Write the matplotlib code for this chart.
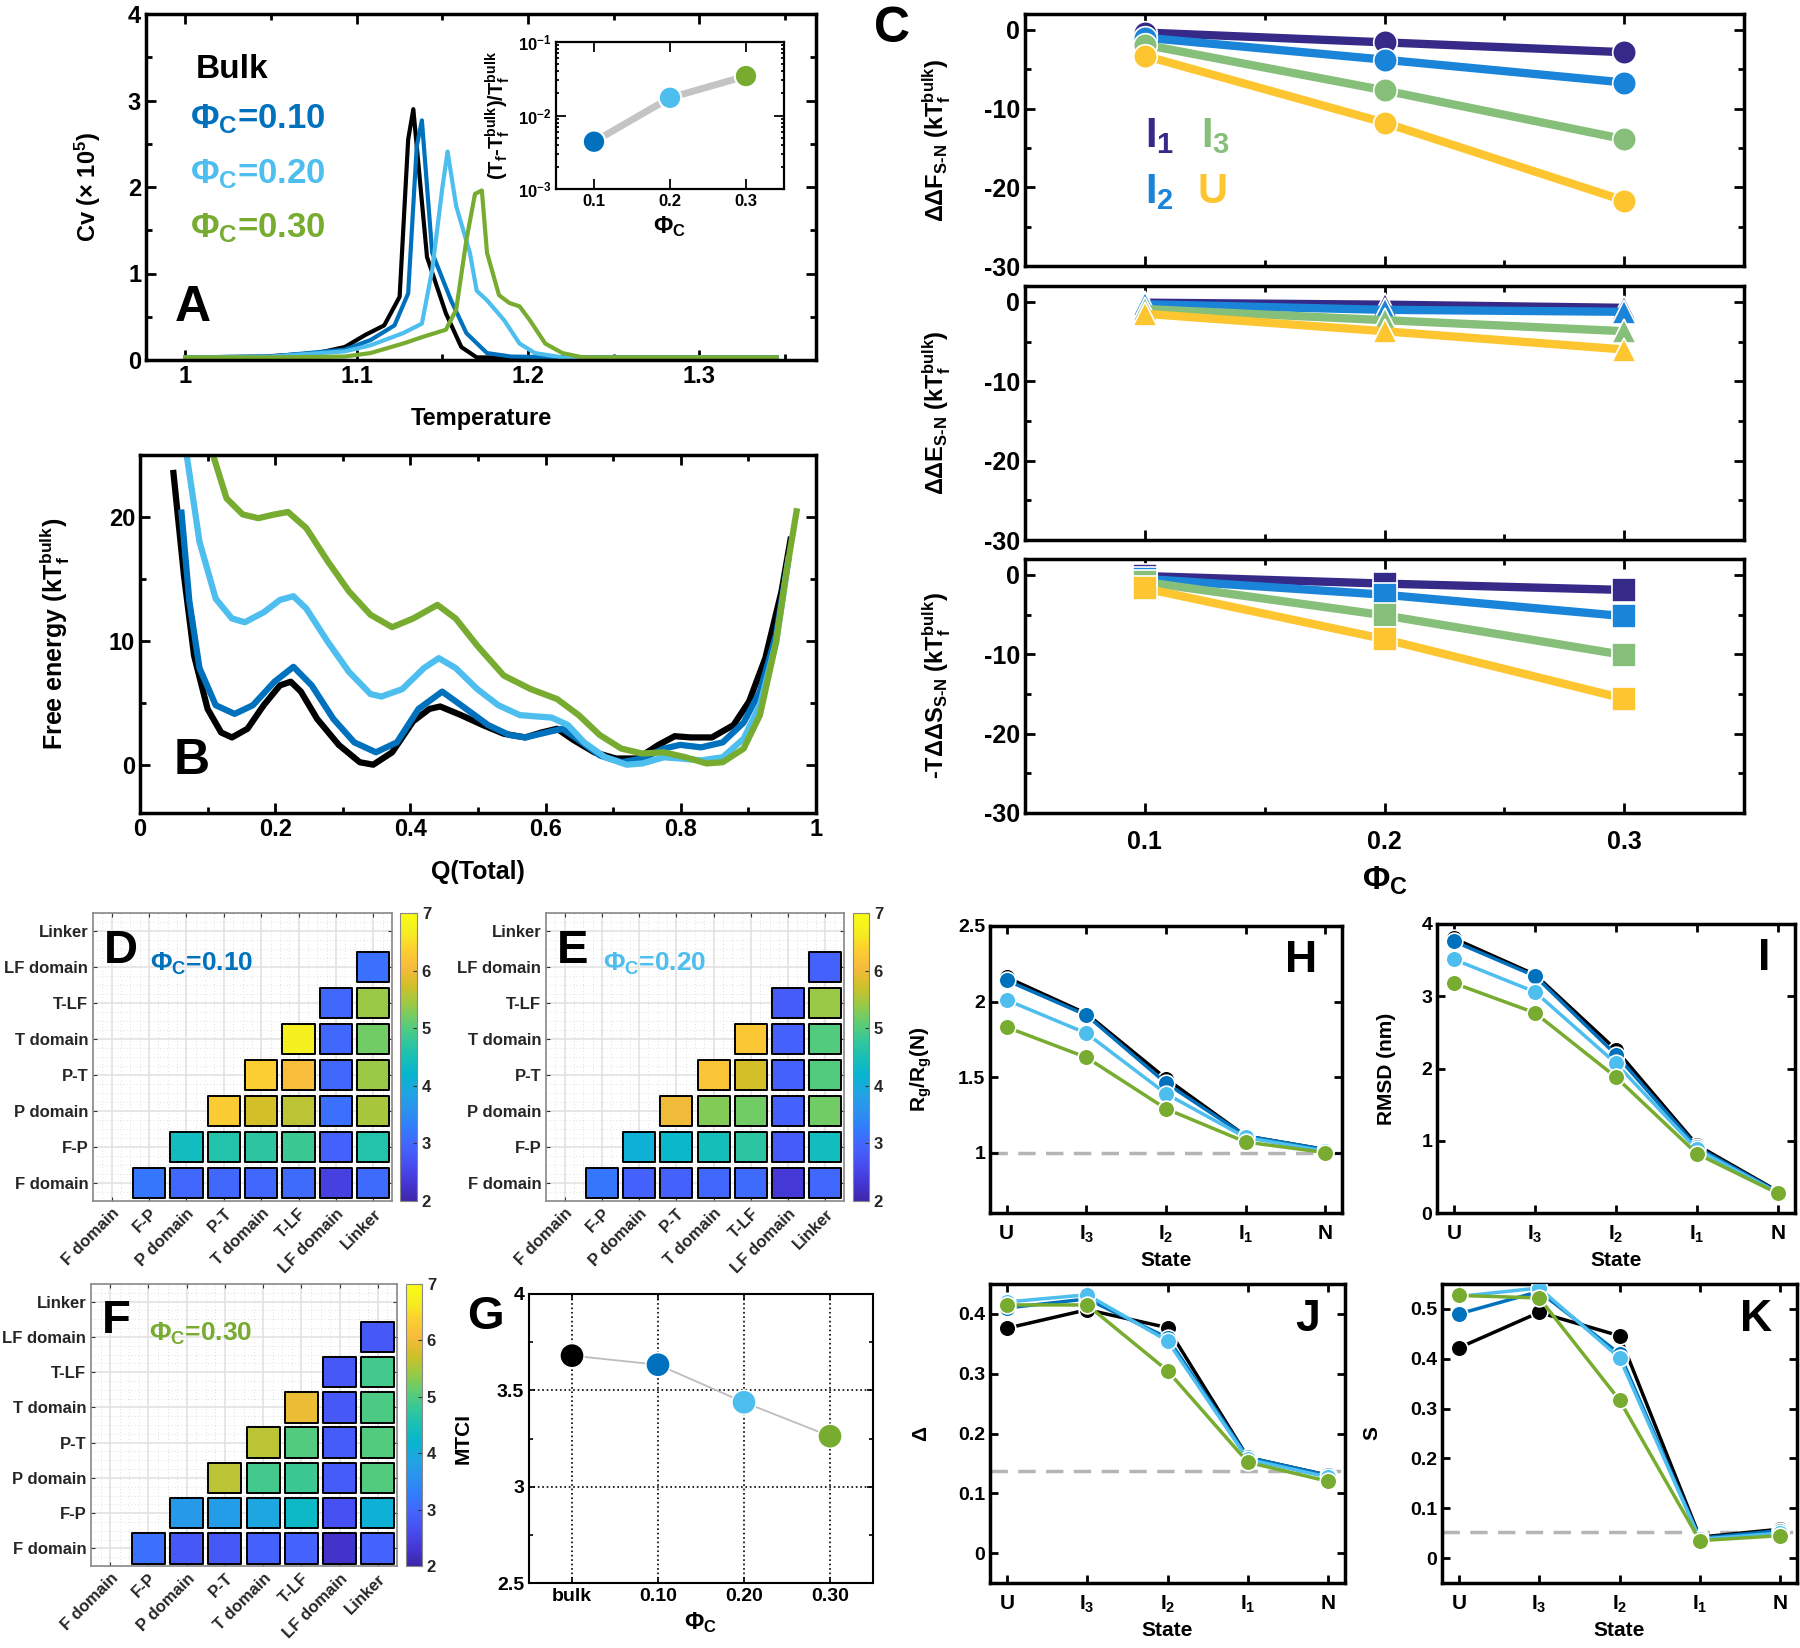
import numpy as np
import matplotlib
matplotlib.use("Agg")
import matplotlib.pyplot as plt
from matplotlib.colors import LinearSegmentedColormap, Normalize
from matplotlib.patches import Rectangle
from matplotlib.collections import PatchCollection
from matplotlib.ticker import MultipleLocator

WIDE = ['Liberation Sans', 'DejaVu Sans']
plt.rcParams['font.family'] = WIDE
plt.rcParams['font.weight'] = 'bold'
plt.rcParams['axes.labelweight'] = 'bold'
plt.rcParams['mathtext.default'] = 'regular'
plt.rcParams['axes.unicode_minus'] = False

C_BULK, C_10, C_20, C_30 = 'black', '#0072bd', '#4dbeee', '#77ac30'
C_I1, C_I2, C_I3, C_U = '#352a87', '#1a84d9', '#86bf7a', '#fdc631'

# ---------------- A: heat capacity (x 1e5)
t_bulk = [1.0, 1.046, 1.077, 1.093, 1.105, 1.116, 1.125, 1.130, 1.133, 1.141, 1.152, 1.161, 1.170, 1.20, 1.345]
cv_bulk = [0.03, 0.04, 0.08, 0.15, 0.29, 0.40, 0.73, 2.55, 2.90, 1.19, 0.54, 0.15, 0.03, 0.03, 0.03]
t_10 = [1.0, 1.05, 1.093, 1.108, 1.122, 1.130, 1.135, 1.138, 1.144, 1.155, 1.164, 1.176, 1.19, 1.22, 1.345]
cv_10 = [0.03, 0.04, 0.12, 0.23, 0.40, 0.77, 2.47, 2.77, 1.24, 0.69, 0.31, 0.08, 0.04, 0.03, 0.03]
t_20 = [1.0, 1.05, 1.093, 1.108, 1.127, 1.138, 1.144, 1.150, 1.153, 1.158, 1.166, 1.170, 1.176,
        1.186, 1.195, 1.204, 1.22, 1.345]
cv_20 = [0.03, 0.04, 0.10, 0.17, 0.31, 0.42, 1.04, 2.0, 2.41, 1.78, 1.24, 0.80, 0.69, 0.46, 0.19, 0.08, 0.03, 0.03]
t_30 = [1.0, 1.05, 1.093, 1.108, 1.127, 1.139, 1.152, 1.158, 1.164, 1.169, 1.173, 1.176, 1.183, 1.189,
        1.195, 1.201, 1.21, 1.22, 1.232, 1.26, 1.345]
cv_30 = [0.03, 0.03, 0.04, 0.08, 0.19, 0.27, 0.35, 0.58, 1.39, 1.92, 1.96, 1.24, 0.75, 0.66, 0.62, 0.46,
         0.19, 0.08, 0.03, 0.03, 0.03]

# inset
phi_c = [0.1, 0.2, 0.3]
tf_shift = [0.0044, 0.0174, 0.0344]

# ---------------- B: free energy profiles
q_bulk = [0.049, 0.065, 0.08, 0.10, 0.12, 0.136, 0.159, 0.183, 0.207, 0.223, 0.238, 0.262, 0.294, 0.325,
          0.345, 0.373, 0.404, 0.428, 0.444, 0.475, 0.507, 0.538, 0.57, 0.594, 0.617, 0.641, 0.672, 0.704,
          0.736, 0.767, 0.791, 0.815, 0.846, 0.878, 0.901, 0.925, 0.949, 0.963]
f_bulk = [23.8, 15.3, 8.8, 4.5, 2.6, 2.2, 2.9, 4.8, 6.4, 6.7, 5.9, 3.7, 1.6, 0.2, 0.0, 1.0, 3.5, 4.5, 4.7,
          4.0, 3.2, 2.5, 2.2, 2.6, 2.9, 2.0, 1.0, 0.5, 0.5, 1.6, 2.3, 2.2, 2.2, 3.2, 5.1, 8.6, 14.0, 18.4]
q_10 = [0.061, 0.073, 0.088, 0.112, 0.14, 0.167, 0.199, 0.227, 0.254, 0.286, 0.317, 0.349, 0.38, 0.412,
        0.447, 0.475, 0.515, 0.546, 0.57, 0.601, 0.625, 0.649, 0.68, 0.712, 0.743, 0.775, 0.799, 0.83,
        0.862, 0.893, 0.917, 0.941, 0.96]
f_10 = [20.6, 13.2, 7.8, 4.8, 4.1, 4.8, 6.7, 7.9, 6.4, 3.7, 1.8, 1.0, 1.8, 4.5, 5.9, 4.8, 3.2, 2.4, 2.2,
        2.6, 2.9, 2.0, 0.75, 0.2, 0.5, 1.3, 1.6, 1.4, 1.8, 3.4, 5.9, 10.5, 16.9]
q_20 = [0.069, 0.088, 0.112, 0.136, 0.155, 0.183, 0.207, 0.227, 0.246, 0.278, 0.309, 0.341, 0.357, 0.388,
        0.42, 0.442, 0.467, 0.499, 0.53, 0.562, 0.609, 0.633, 0.657, 0.688, 0.72, 0.743, 0.775, 0.799,
        0.83, 0.862, 0.893, 0.917, 0.941, 0.96]
f_20 = [25.0, 18.0, 13.4, 11.8, 11.5, 12.3, 13.3, 13.6, 12.6, 9.9, 7.5, 5.7, 5.5, 6.1, 7.8, 8.6, 7.8, 6.1,
        4.8, 4.0, 3.8, 3.2, 1.8, 0.6, 0.0, 0.1, 0.6, 0.5, 0.35, 0.6, 2.1, 4.8, 9.9, 16.8]
q_30 = [0.108, 0.128, 0.152, 0.175, 0.199, 0.219, 0.246, 0.278, 0.309, 0.341, 0.373, 0.404, 0.44, 0.467,
        0.499, 0.538, 0.578, 0.617, 0.649, 0.68, 0.712, 0.743, 0.775, 0.807, 0.838, 0.862, 0.893, 0.917,
        0.941, 0.957, 0.972]
f_30 = [25.0, 21.5, 20.2, 19.9, 20.2, 20.4, 19.1, 16.4, 14.0, 12.1, 11.1, 11.8, 12.9, 11.8, 9.6, 7.2, 6.1,
        5.3, 4.0, 2.4, 1.3, 0.9, 1.0, 0.6, 0.1, 0.2, 1.3, 4.0, 9.9, 15.8, 20.7]

# ---------------- C: stability changes vs crowder fraction
ddf_i1, ddf_i2, ddf_i3, ddf_u = [-0.35, -1.6, -2.85], [-1.0, -3.8, -6.7], [-1.9, -7.7, -13.9], [-3.3, -11.8, -21.7]
dde_i1, dde_i2, dde_i3, dde_u = [-0.1, -0.35, -0.75], [-0.3, -1.0, -1.25], [-0.9, -2.3, -3.7], [-1.5, -3.7, -6.0]
tds_i1, tds_i2, tds_i3, tds_u = [-0.15, -1.1, -1.9], [-0.5, -2.5, -5.2], [-0.9, -5.1, -10.1], [-1.7, -8.1, -15.6]

# ---------------- D/E/F: contact maps (upper triangle rows, F domain row first)
domains = ['F domain', 'F-P', 'P domain', 'P-T', 'T domain', 'T-LF', 'LF domain', 'Linker']
map_10 = [[3.2, 3.0, 3.0, 3.0, 3.05, 2.45, 3.05],
          [4.4, 4.6, 4.7, 4.85, 2.9, 4.6],
          [6.3, 5.75, 5.6, 3.1, 5.5],
          [6.35, 6.1, 3.0, 5.4],
          [6.7, 3.0, 5.2],
          [3.0, 5.4],
          [3.1]]
map_20 = [[3.2, 2.9, 2.9, 3.0, 3.05, 2.35, 3.0],
          [4.1, 4.25, 4.45, 4.7, 2.85, 4.4],
          [6.0, 5.3, 5.2, 2.9, 5.2],
          [6.2, 5.75, 2.9, 5.0],
          [6.25, 2.9, 5.0],
          [2.85, 5.4],
          [2.9]]
map_30 = [[3.1, 2.8, 2.8, 2.9, 2.95, 2.25, 2.95],
          [3.7, 3.75, 3.9, 4.3, 2.7, 4.1],
          [5.6, 4.9, 4.85, 2.85, 5.0],
          [5.6, 5.0, 2.85, 5.0],
          [5.95, 2.8, 4.95],
          [2.8, 4.9],
          [2.8]]

# ---------------- G: MTCI
g_labels = ['bulk', '0.10', '0.20', '0.30']
mtci = [3.68, 3.633, 3.438, 3.262]

# ---------------- H-K: structural measures per state
states = ['U', 'I$_3$', 'I$_2$', 'I$_1$', 'N']
rg_bulk, rg_10, rg_20, rg_30 = ([2.16, 1.92, 1.49, 1.11, 1.02], [2.14, 1.91, 1.46, 1.11, 1.02],
                                [2.01, 1.79, 1.39, 1.10, 1.01], [1.83, 1.63, 1.29, 1.07, 1.00])
rmsd_bulk, rmsd_10, rmsd_20, rmsd_30 = ([3.80, 3.30, 2.26, 0.94, 0.30], [3.76, 3.28, 2.19, 0.91, 0.29],
                                        [3.51, 3.06, 2.07, 0.88, 0.28], [3.18, 2.77, 1.88, 0.82, 0.27])
delta_bulk, delta_10, delta_20, delta_30 = ([0.376, 0.407, 0.377, 0.160, 0.130], [0.410, 0.425, 0.360, 0.160, 0.130],
                                            [0.420, 0.432, 0.355, 0.157, 0.127], [0.415, 0.415, 0.305, 0.152, 0.120])
s_bulk, s_10, s_20, s_30 = ([0.422, 0.493, 0.446, 0.042, 0.058], [0.490, 0.535, 0.410, 0.040, 0.055],
                            [0.525, 0.542, 0.402, 0.038, 0.050], [0.527, 0.522, 0.317, 0.035, 0.045])

parula = LinearSegmentedColormap.from_list('parula', [
    (0.2422, 0.1504, 0.6603), (0.2706, 0.2147, 0.8364), (0.2813, 0.3006, 0.9414), (0.2699, 0.3892, 0.9906),
    (0.1963, 0.4847, 0.9892), (0.1687, 0.5703, 0.9359), (0.1248, 0.6459, 0.8883), (0.0297, 0.7082, 0.8163),
    (0.0964, 0.7500, 0.7120), (0.2161, 0.7843, 0.5923), (0.3909, 0.8029, 0.4354), (0.6174, 0.7876, 0.2612),
    (0.8203, 0.7498, 0.1535), (0.9728, 0.7298, 0.2394), (0.9892, 0.8136, 0.1885), (0.9628, 0.9373, 0.1265),
    (0.9769, 0.9839, 0.0805)])

W, H = 1800, 1648
SN = '$_{S\u2010N}$'


def box(l, t, r, b):
    return [l / W, 1 - b / H, (r - l) / W, (b - t) / H]


def frame(ax, lw=2.5, size=15):
    for s in ax.spines.values():
        s.set_linewidth(lw)
    ax.tick_params(which='both', direction='in', top=True, right=True, width=lw * 0.8, labelsize=size)
    ax.tick_params(which='major', length=7)
    ax.tick_params(which='minor', length=4)


fig = plt.figure(figsize=(18, 16.48), dpi=100)

# ---- A
ax = fig.add_axes(box(146, 14, 816, 360))
for t, cv, c in [(t_bulk, cv_bulk, C_BULK), (t_10, cv_10, C_10), (t_20, cv_20, C_20), (t_30, cv_30, C_30)]:
    ax.plot(t, cv, color=c, lw=3)
ax.set_xlim(0.977, 1.368)
ax.set_ylim(0, 4)
ax.set_xticks([1, 1.1, 1.2, 1.3])
ax.set_xticklabels(['1', '1.1', '1.2', '1.3'])
ax.xaxis.set_minor_locator(MultipleLocator(0.05))
ax.yaxis.set_minor_locator(MultipleLocator(0.5))
frame(ax, size=17)
ax.set_xlabel('Temperature', fontsize=17, labelpad=14)
ax.set_ylabel('Cv (× 10$^5$)', fontsize=17)
ax.yaxis.set_label_coords(-0.064, 0.5)
ax.text(0.075, 0.815, 'Bulk', transform=ax.transAxes, fontsize=24, color='k')
for y, lab, c in [(0.67, '0.10', C_10), (0.512, '0.20', C_20), (0.355, '0.30', C_30)]:
    ax.text(0.066, y, 'Φ$_C$=' + lab, transform=ax.transAxes, fontsize=25, color=c)
fig.text(193 / W, 1 - 308 / H, 'A', fontsize=36, ha='center', va='center')

axi = fig.add_axes(box(556, 42, 784, 189))
axi.semilogy(phi_c, tf_shift, color='#c4c4c4', lw=5, zorder=1)
axi.scatter(phi_c, tf_shift, s=260, c=[C_10, C_20, C_30], edgecolors='white', linewidths=1.5, zorder=3)
axi.set_xlim(0.05, 0.35)
axi.set_ylim(1e-3, 1e-1)
axi.set_xticks(phi_c)
axi.set_xticklabels(['0.1', '0.2', '0.3'])
frame(axi, lw=1.6, size=12)
axi.tick_params(which='minor', length=2.5)
axi.set_xlabel('Φ$_C$', fontsize=17)
axi.set_ylabel('(T$_f$\u2010T$_f^{bulk}$)/T$_f^{bulk}$', fontsize=14.5)

# ---- B
ax = fig.add_axes(box(140, 455, 816, 813))
for q, f, c in [(q_bulk, f_bulk, C_BULK), (q_10, f_10, C_10), (q_20, f_20, C_20), (q_30, f_30, C_30)]:
    ax.plot(q, f, color=c, lw=4.5, solid_capstyle='butt')
ax.set_xlim(0, 1)
ax.set_ylim(-3.9, 25)
ax.set_xticks([0, 0.2, 0.4, 0.6, 0.8, 1])
ax.set_xticklabels(['0', '0.2', '0.4', '0.6', '0.8', '1'])
ax.set_yticks([0, 10, 20])
ax.xaxis.set_minor_locator(MultipleLocator(0.1))
ax.yaxis.set_minor_locator(MultipleLocator(5))
frame(ax, size=17)
ax.set_xlabel('Q(Total)', fontsize=18, labelpad=14)
ax.set_ylabel('Free energy (kT$_f^{bulk}$)', fontsize=18)
ax.yaxis.set_label_coords(-0.1, 0.5)
fig.text(192 / W, 1 - 761 / H, 'B', fontsize=36, ha='center', va='center')

# ---- C
c_rows = [((14, 266), 'o', [ddf_i1, ddf_i2, ddf_i3, ddf_u], 'ΔΔF' + SN + ' (kT$_f^{bulk}$)'),
          ((286, 540), '^', [dde_i1, dde_i2, dde_i3, dde_u], 'ΔΔE' + SN + ' (kT$_f^{bulk}$)'),
          ((559, 813), 's', [tds_i1, tds_i2, tds_i3, tds_u], '-TΔΔS' + SN + ' (kT$_f^{bulk}$)')]
for k, ((top, bot), mk, series, ylab) in enumerate(c_rows):
    ax = fig.add_axes(box(1025, top, 1744, bot))
    for vals, c in zip(series, [C_I1, C_I2, C_I3, C_U]):
        ax.plot(phi_c, vals, color=c, lw=6, marker=mk, ms=17, mec='white', mew=1.2)
    ax.set_xlim(0.05, 0.35)
    ax.set_ylim(-30, 2)
    ax.set_xticks(phi_c)
    ax.xaxis.set_minor_locator(MultipleLocator(0.05))
    ax.set_yticks([0, -10, -20, -30])
    ax.yaxis.set_minor_locator(MultipleLocator(5))
    frame(ax, size=18)
    ax.set_ylabel(ylab, fontsize=17)
    ax.yaxis.set_label_coords(-0.1, 0.5)
    if k < 2:
        ax.set_xticklabels([])
    else:
        ax.set_xticklabels(['0.1', '0.2', '0.3'])
        ax.tick_params(axis='x', pad=12)
        ax.set_xlabel('Φ$_C$', fontsize=24, labelpad=8)
    if k == 0:
        for x, y, lab, c in [(0.167, 0.472, 'I$_1$', C_I1), (0.245, 0.472, 'I$_3$', C_I3),
                             (0.167, 0.25, 'I$_2$', C_I2), (0.24, 0.25, 'U', C_U)]:
            ax.text(x, y, lab, transform=ax.transAxes, fontsize=30, color=c)
fig.text(892 / W, 1 - 29 / H, 'C', fontsize=36, ha='center', va='center')


# ---- D, E, F
def heat(ax_box, cax_box, rows, letter, tag, color):
    ax = fig.add_axes(box(*ax_box))
    cax = fig.add_axes(box(*cax_box))
    rects, vals = [], []
    for i, row in enumerate(rows):
        for k, v in enumerate(row):
            j = i + 1 + k
            rects.append(Rectangle((j - 0.43, i - 0.43), 0.86, 0.86))
            vals.append(v)
    pc = PatchCollection(rects, cmap=parula, norm=Normalize(2, 7), edgecolor='k', linewidth=1.4, zorder=3)
    pc.set_array(np.array(vals))
    ax.add_collection(pc)
    ax.set_xlim(-0.5, 7.5)
    ax.set_ylim(-0.5, 7.5)
    ax.set_xticks(range(8))
    ax.set_yticks(range(8))
    ax.set_xticklabels(domains, rotation=45, ha='right', rotation_mode='anchor', fontsize=12, color='#262626')
    ax.set_yticklabels(domains, fontsize=12, color='#262626')
    ax.set_xticks(np.arange(-0.25, 7.6, 0.25), minor=True)
    ax.set_yticks(np.arange(-0.25, 7.6, 0.25), minor=True)
    ax.grid(True, which='major', color='#e3e3e3', lw=1.2, zorder=0)
    ax.grid(True, which='minor', color='#d5d5d5', lw=0.6, ls=(0, (1, 3)), zorder=0)
    ax.tick_params(which='both', direction='in', top=True, right=True, length=3, color='#333333')
    ax.tick_params(which='minor', length=0)
    for s in ax.spines.values():
        s.set_color('#888888')
        s.set_linewidth(1.2)
    cb = fig.colorbar(pc, cax=cax)
    cb.set_ticks(range(2, 8))
    cax.tick_params(labelsize=12, length=3, direction='in', color='#333333')
    for lab in cax.get_yticklabels():
        lab.set_color('#262626')
    cb.outline.set_edgecolor('#888888')
    ax.text(0.035, 0.826, letter, transform=ax.transAxes, fontsize=34, va='baseline')
    ax.text(0.19, 0.80, 'Φ$_C$=' + tag, transform=ax.transAxes, fontsize=19, color=color, va='baseline')


heat((93, 913, 392, 1201), (400, 913, 417, 1201), map_10, 'D', '0.10', C_10)
heat((546, 913, 844, 1201), (853, 913, 869, 1201), map_20, 'E', '0.20', C_20)
heat((91, 1284, 397, 1566), (406, 1284, 422, 1566), map_30, 'F', '0.30', C_30)

# ---- G
ax = fig.add_axes(box(529, 1294, 873, 1583))
xg = np.arange(len(mtci))
ax.plot(xg, mtci, color='#bdbdbd', lw=1.3, zorder=2)
ax.scatter(xg, mtci, s=300, c=[C_BULK, C_10, C_20, C_30], edgecolors='white', linewidths=1.0, zorder=3)
ax.set_xlim(-0.5, 3.5)
ax.set_ylim(2.5, 4)
ax.set_xticks(xg)
ax.set_xticklabels(g_labels)
ax.set_yticks([2.5, 3, 3.5, 4])
ax.set_yticklabels(['2.5', '3', '3.5', '4'])
ax.yaxis.set_minor_locator(MultipleLocator(0.25))
ax.grid(True, which='major', color='k', ls=':', lw=1.2)
frame(ax, lw=1.5, size=14)
ax.tick_params(which='major', length=4)
ax.tick_params(which='minor', length=3)
ax.set_xlabel('Φ$_C$', fontsize=17)
ax.set_ylabel('MTCI', fontsize=15)
ax.yaxis.set_label_coords(-0.163, 0.5)
fig.text(485 / W, 1 - 1317 / H, 'G', fontsize=34, ha='center', va='center')

# ---- H-K
panels = [((990, 926, 1342, 1213), [rg_bulk, rg_10, rg_20, rg_30], (0.6, 2.5), [1, 1.5, 2, 2.5],
           ['1', '1.5', '2', '2.5'], 1.0, 'R$_g$/R$_g$(N)', -0.16, 'H'),
          ((1437, 924, 1795, 1213), [rmsd_bulk, rmsd_10, rmsd_20, rmsd_30], (0, 4), [0, 1, 2, 3, 4],
           ['0', '1', '2', '3', '4'], None, 'RMSD (nm)', -0.115, 'I'),
          ((990, 1284, 1345, 1583), [delta_bulk, delta_10, delta_20, delta_30], (-0.05, 0.45),
           [0, 0.1, 0.2, 0.3, 0.4], ['0', '0.1', '0.2', '0.3', '0.4'], 0.138, 'Δ', -0.17, 'J'),
          ((1442, 1284, 1797, 1583), [s_bulk, s_10, s_20, s_30], (-0.05, 0.55),
           [0, 0.1, 0.2, 0.3, 0.4, 0.5], ['0', '0.1', '0.2', '0.3', '0.4', '0.5'], 0.052, 'S', -0.17, 'K')]
xs = np.arange(len(states))
for bx, series, ylim, yt, ytl, ref, ylab, lx, letter in panels:
    ax = fig.add_axes(box(*bx))
    if ref is not None:
        ax.axhline(ref, color='#b5b5b5', lw=2.5, ls=(0, (5, 3)), zorder=1)
    for vals, c in zip(series, [C_BULK, C_10, C_20, C_30]):
        ax.plot(xs, vals, color=c, lw=2.5, marker='o', ms=12, mec='white', mew=1.2, zorder=3)
    ax.set_xlim(-0.21, 4.21)
    ax.set_ylim(*ylim)
    ax.set_xticks(xs)
    ax.set_xticklabels(states)
    ax.set_yticks(yt)
    ax.set_yticklabels(ytl)
    frame(ax, lw=2.5, size=14)
    ax.tick_params(axis='x', labelsize=15, pad=8)
    ax.tick_params(which='major', length=6)
    ax.set_xlabel('State', fontsize=15)
    ax.set_ylabel(ylab, fontsize=15)
    ax.yaxis.set_label_coords(lx, 0.5)
    ax.text(0.93, 0.95, letter, transform=ax.transAxes, fontsize=32, ha='right', va='top')

fig.savefig('out.png', dpi=100)
